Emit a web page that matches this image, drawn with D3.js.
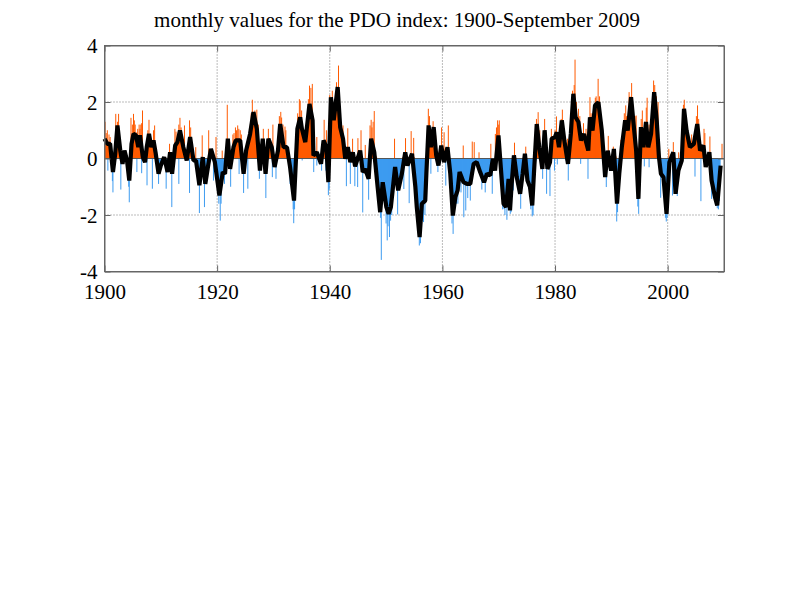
<!DOCTYPE html>
<html>
<head>
<meta charset="utf-8">
<style>
  body { margin: 0; background: #fff; }
  text { font-family: "Liberation Serif", serif; fill: #000; }
</style>
<script src="https://cdn.jsdelivr.net/npm/d3@7"></script>
</head>
<body>
<svg width="800" height="600"></svg>
<script>
const xTicks = [1900, 1920, 1940, 1960, 1980, 2000];
const yTicks = [-4, -2, 0, 2, 4];
const titleText = "monthly values for the PDO index: 1900-September 2009";

// running mean: [year, index]
const smoothed = [
  [1900.0,.70],[1900.5,.52],[1901.0,.52],[1901.5,-.48],[1901.9,.17],[1902.3,1.17],[1902.8,.28],[1903.2,-.19],
  [1903.55,.28],[1904.0,-.07],[1904.4,-.78],[1904.8,.52],[1905.15,.87],[1905.6,.82],[1906.0,.40],[1906.3,.82],
  [1906.8,.05],[1907.2,-.13],[1907.5,.40],[1907.9,.87],[1908.3,.40],[1908.7,.64],[1909.1,.17],[1909.6,-.54],
  [1910.0,-.25],[1910.6,.05],[1911.2,-.48],[1911.65,.22],[1912.0,-.54],[1912.55,.46],[1912.95,.58],[1913.4,.99],
  [1914.0,.40],[1914.6,-.07],[1915.2,.76],[1915.8,-.07],[1916.25,-.07],[1916.85,-.95],[1917.45,.05],[1917.9,-.90],
  [1918.45,-.19],[1918.9,.34],[1919.6,-.13],[1920.4,-1.31],[1921.0,-.48],[1921.4,-.54],[1921.9,.70],[1922.3,-.37],
  [1922.9,.40],[1923.3,.64],[1924.1,.64],[1924.7,-.54],[1925.15,.28],[1925.85,.87],[1926.45,1.64],[1927.05,1.05],
  [1927.6,-.43],[1928.1,.70],[1928.6,-.54],[1929.1,.70],[1929.7,.40],[1930.2,-.30],[1930.8,.28],[1931.2,1.22],
  [1931.8,.40],[1932.4,.40],[1932.95,-.30],[1933.65,-1.49],[1934.25,1.05],[1934.75,1.46],[1935.05,1.05],[1935.65,.58],
  [1936.4,1.93],[1936.95,1.35],[1937.1,.11],[1937.7,.22],[1938.45,-.19],[1938.9,.64],[1939.4,.40],[1939.75,-.84],
  [1940.2,2.17],[1940.7,1.35],[1941.4,2.53],[1941.85,1.11],[1942.35,.70],[1942.75,-.01],[1943.2,.40],[1943.65,-.13],
  [1944.1,.22],[1944.5,-.28],[1945.4,.28],[1945.85,-.48],[1946.3,-.37],[1946.9,-.72],[1947.35,.70],[1947.9,.22],
  [1948.5,-1.01],[1948.95,-1.90],[1949.4,-.84],[1950.05,-1.72],[1950.45,-1.96],[1950.85,-1.72],[1951.6,-.30],[1952.15,-1.13],
  [1952.8,-.54],[1953.4,.22],[1953.8,-.25],[1954.6,.17],[1955.2,-1.01],[1955.45,-1.72],[1955.95,-2.78],[1956.35,-1.60],
  [1956.95,-1.49],[1957.15,-.54],[1957.55,1.17],[1957.95,.40],[1958.45,1.11],[1958.9,.11],[1959.3,-.25],[1959.8,.46],
  [1960.3,-.13],[1960.9,.40],[1961.4,-.54],[1961.85,-2.02],[1962.3,-1.37],[1962.7,-1.13],[1963.05,-.48],[1963.75,-.84],
  [1964.35,-.90],[1964.95,-.90],[1965.55,-.19],[1966.1,-.13],[1966.7,-.48],[1967.4,-.84],[1967.9,-.54],[1968.5,-.60],
  [1968.95,-.01],[1969.35,-.43],[1969.95,.82],[1970.45,-.54],[1970.85,-1.60],[1971.3,-1.72],[1971.75,-.72],[1972.0,-1.84],
  [1972.3,-.90],[1972.7,.11],[1973.2,-.66],[1973.8,-1.25],[1974.25,-.54],[1974.65,.17],[1975.1,-.78],[1975.55,-1.01],
  [1975.95,-1.66],[1976.25,-.54],[1976.75,1.22],[1977.2,.40],[1977.75,-.37],[1978.15,1.00],[1978.65,-.37],[1979.1,-.13],
  [1979.4,.70],[1980.0,.76],[1980.3,.93],[1980.7,.40],[1981.2,1.35],[1981.65,.64],[1982.3,-.19],[1982.8,.87],
  [1983.25,2.29],[1983.65,1.46],[1984.15,1.29],[1984.6,.64],[1985.15,.87],[1985.9,.28],[1986.2,1.46],[1986.65,.99],
  [1987.1,1.88],[1987.7,1.99],[1988.3,.99],[1988.9,-.66],[1989.35,.28],[1989.95,-.43],[1990.45,.34],[1991.0,-1.60],
  [1991.4,-.54],[1991.85,.40],[1992.45,1.35],[1992.9,.99],[1993.5,2.17],[1994.0,1.11],[1994.4,.28],[1994.8,-1.43],
  [1995.25,1.11],[1995.7,.40],[1996.15,1.29],[1996.55,.40],[1997.05,.87],[1997.6,2.35],[1998.05,1.35],[1998.45,.05],
  [1998.8,-.54],[1999.25,-.66],[1999.8,-1.96],[2000.3,-.13],[2001.0,.22],[2001.4,-1.25],[2001.9,-.43],[2002.5,-.07],
  [2002.9,1.76],[2003.35,.99],[2003.95,.40],[2004.65,.52],[2005.25,1.22],[2005.75,.28],[2006.35,.46],[2006.75,-.30],
  [2007.4,.22],[2007.8,-.78],[2008.4,-1.37],[2008.8,-1.66],[2009.4,-.25]
];

// monthly extremes that stick out past the black line
const monthlyHigh = [
  [1900.1,1.30],[1900.5,1.0],[1901.0,.76],[1902.0,1.58],[1902.5,1.58],[1904.7,1.44],[1905.15,1.58],[1905.45,1.2],
  [1905.75,.93],[1906.15,1.2],[1906.45,1.2],[1906.75,1.70],[1907.9,1.37],[1908.9,1.17],[1911.55,.52],[1912.5,1.05],
  [1912.95,.82],[1913.4,1.44],[1914.2,1.17],[1915.1,1.35],[1916.2,.40],[1917.35,.82],[1918.5,1.0],[1919.8,.76],
  [1920.9,.28],[1921.8,1.90],[1922.8,.85],[1923.25,1.1],[1923.65,1.17],[1924.1,1.0],[1926.25,2.08],[1927.05,1.73],
  [1928.2,1.05],[1929.1,1.05],[1929.9,1.2],[1931.05,1.5],[1931.3,1.65],[1932.05,1.13],[1934.6,2.1],[1934.75,2.05],
  [1936.4,2.58],[1936.9,2.64],[1937.7,.76],[1939.0,1.37],[1939.4,1.0],[1940.45,2.4],[1941.55,3.29],[1942.35,1.17],
  [1943.2,1.07],[1944.05,.70],[1945.0,.72],[1945.55,1.0],[1946.3,.48],[1947.15,1.17],[1947.35,1.37],[1947.9,1.68],
  [1951.5,.70],[1953.45,.72],[1954.45,.97],[1954.9,.73],[1957.5,1.76],[1958.35,1.32],[1958.8,.82],[1959.85,1.1],
  [1960.3,.93],[1961.05,1.17],[1963.7,.46],[1965.3,.6],[1965.65,.58],[1966.5,.22],[1968.6,.52],[1969.4,.87],
  [1969.8,1.35],[1970.1,1.35],[1972.8,.56],[1974.8,.42],[1977.0,1.64],[1978.15,1.4],[1979.35,1.05],[1980.0,1.0],
  [1980.25,1.49],[1981.3,1.73],[1982.2,.7],[1982.65,.82],[1983.55,3.5],[1984.15,1.76],[1985.05,1.25],[1985.5,1.05],
  [1986.2,2.17],[1987.15,2.15],[1987.65,2.82],[1989.45,.8],[1990.35,.42],[1991.7,.66],[1992.55,1.88],[1993.15,2.35],
  [1993.6,2.67],[1994.4,1.52],[1995.5,1.70],[1996.35,2.15],[1997.5,2.76],[1998.3,2.0],[2000.2,.34],[2001.0,.58],
  [2001.95,.22],[2002.95,2.08],[2004.25,.85],[2005.3,1.88],[2006.45,1.05],[2007.5,.78],[2009.65,.52],
  // shorter bars packed in next to the tall ones
  [1900.3,.9],[1900.8,.85],[1902.3,1.3],[1904.95,1.2],[1905.3,1.35],[1905.9,1.05],[1906.3,1.05],[1906.6,1.25],
  [1907.7,1.0],[1908.1,.75],[1908.7,1.0],[1912.7,.95],[1913.2,1.2],[1913.6,1.1],[1915.3,1.1],[1923.0,.9],
  [1923.45,1.0],[1923.85,1.05],[1924.3,.85],[1925.9,1.2],[1926.05,1.6],[1926.7,1.7],[1927.3,1.2],[1931.45,1.45],
  [1931.7,1.2],[1932.2,1.0],[1934.3,1.6],[1935.0,1.7],[1936.2,2.1],[1936.65,2.5],[1940.0,2.25],[1940.9,1.9],
  [1941.2,2.7],[1941.75,1.6],[1947.5,1.1],[1947.7,1.3],[1957.7,1.5],[1958.6,1.1],[1969.6,1.1],[1970.0,1.2],
  [1976.7,1.4],[1977.3,1.0],[1981.1,1.4],[1981.5,1.2],[1983.1,2.4],[1983.4,2.6],[1983.8,2.0],[1984.4,1.5],
  [1986.4,1.6],[1986.9,1.7],[1987.3,2.2],[1987.9,2.2],[1988.2,1.5],[1992.3,1.6],[1992.7,1.5],[1993.3,2.2],
  [1993.8,1.9],[1994.2,1.5],[1995.3,1.4],[1995.9,1.3],[1996.2,1.8],[1996.7,1.2],[1997.3,2.2],[1997.7,2.6],
  [1998.0,2.2],[2002.8,1.9],[2003.1,1.6],[2003.5,1.2],[2005.1,1.5],[2005.5,1.4],[2006.6,.9]
];
const monthlyLow = [
  [1900.6,-.43],[1901.5,-1.2],[1902.9,-1.1],[1904.4,-1.55],[1905.75,-.48],[1906.6,-.52],[1907.55,-.95],[1908.5,-1.07],
  [1909.6,-.9],[1910.95,-1.07],[1911.95,-1.72],[1913.2,-.9],[1915.1,-1.22],[1916.85,-1.93],[1917.75,-1.72],[1919.35,-.78],
  [1920.55,-2.2],[1921.3,-.9],[1922.4,-1.0],[1923.9,-.55],[1924.7,-1.22],[1925.45,-1.07],[1927.5,-.72],[1928.65,-1.4],
  [1929.8,-.66],[1930.45,-.72],[1932.95,-.9],[1933.6,-2.29],[1935.1,-.07],[1937.15,-.48],[1937.7,-.25],[1938.55,-.43],
  [1939.3,-.43],[1939.75,-1.3],[1942.95,-.98],[1943.65,-.9],[1944.45,-.98],[1944.95,-1.01],[1945.85,-1.91],[1946.9,-1.46],
  [1949.15,-3.59],[1950.2,-2.9],[1950.6,-2.78],[1952.05,-1.98],[1953.15,-1.08],[1954.1,-1.58],[1955.9,-3.08],[1956.65,-2.25],
  [1957.95,-.54],[1959.2,-.48],[1960.6,-.96],[1961.9,-2.67],[1962.75,-1.6],[1963.8,-2.08],[1964.15,-1.84],[1964.95,-1.49],
  [1967.0,-1.1],[1967.6,-1.2],[1968.85,-1.25],[1970.95,-1.79],[1971.45,-2.17],[1972.05,-1.96],[1972.6,-1.13],[1973.9,-1.78],
  [1975.95,-2.05],[1977.8,-.72],[1978.5,-1.25],[1979.1,-1.33],[1979.9,-.43],[1980.4,-.21],[1982.35,-.78],[1984.55,-.19],
  [1985.85,-.72],[1989.1,-1.01],[1990.95,-2.23],[1994.85,-1.96],[1995.85,-.28],[1996.7,-.31],[1998.75,-1.39],[1999.75,-2.23],
  [2000.85,-1.31],[2001.7,-1.33],[2004.85,-.64],[2005.9,-1.51],[2007.8,-1.43],[2008.8,-1.76],
  // shorter bars packed in next to the deep ones
  [1949.0,-2.1],[1949.6,-1.5],[1950.0,-2.3],[1950.35,-2.4],[1950.8,-2.2],[1951.0,-2.0],[1955.5,-2.2],[1955.7,-2.6],
  [1956.1,-3.0],[1956.45,-2.2],[1956.9,-2.0],[1961.7,-2.3],[1962.1,-2.0],[1962.5,-1.6],[1963.3,-1.2],[1964.5,-1.4],
  [1970.7,-1.8],[1971.1,-2.0],[1971.7,-1.5],[1972.2,-1.9],[1975.7,-1.8],[1976.1,-2.0],[1920.3,-1.6],[1920.7,-1.6],
  [1933.5,-1.8],[1933.75,-1.8],[1939.9,-1.1],[2007.9,-1.1],[2008.2,-1.4],[2008.5,-1.6],[2009.0,-1.8],[2009.2,-1.5],
  [1999.6,-2.1],[1999.9,-2.1],[1991.1,-1.9],[1994.7,-1.7],[1904.3,-1.0],[1901.4,-.8]
];

const orange = "#ff5a00";
const blue = "#3d9bf0";
const frame = "#666";

const svg = d3.select("svg");
const x = d3.scaleLinear().domain([1900, 2010]).range([104.5, 724]);
const y = d3.scaleLinear().domain([-4, 4]).range([271.5, 45.5]);

svg.append("text")
  .attr("x", 397).attr("y", 27)
  .attr("text-anchor", "middle")
  .attr("font-size", 21)
  .text(titleText);

// dotted grid
svg.append("g").selectAll("line").data(xTicks.slice(1)).join("line")
  .attr("x1", d => x(d)).attr("x2", d => x(d))
  .attr("y1", y(4)).attr("y2", y(-4))
  .attr("stroke", "#777").attr("stroke-dasharray", "1 2");
svg.append("g").selectAll("line").data([-2, 2]).join("line")
  .attr("x1", x(1900)).attr("x2", x(2010))
  .attr("y1", d => y(d)).attr("y2", d => y(d))
  .attr("stroke", "#777").attr("stroke-dasharray", "1 2");

// filled part under the smoothed curve
const fillArea = d3.area().x(d => x(d[0])).y0(y(0));
svg.append("path").datum(smoothed)
  .attr("fill", orange)
  .attr("d", fillArea.y1(d => y(Math.max(d[1], 0))));
svg.append("path").datum(smoothed)
  .attr("fill", blue)
  .attr("d", fillArea.y1(d => y(Math.min(d[1], 0))));

// monthly bars
svg.append("g").attr("stroke", orange).attr("stroke-width", 1)
  .selectAll("line").data(monthlyHigh).join("line")
  .attr("x1", d => x(d[0])).attr("x2", d => x(d[0]))
  .attr("y1", y(0)).attr("y2", d => y(d[1]));
svg.append("g").attr("stroke", blue).attr("stroke-width", 1)
  .selectAll("line").data(monthlyLow).join("line")
  .attr("x1", d => x(d[0])).attr("x2", d => x(d[0]))
  .attr("y1", y(0)).attr("y2", d => y(d[1]));

// zero line
svg.append("line")
  .attr("x1", x(1900)).attr("x2", x(2010))
  .attr("y1", y(0)).attr("y2", y(0))
  .attr("stroke", "#555").attr("stroke-width", 1);

svg.append("path").datum(smoothed)
  .attr("fill", "none")
  .attr("stroke", "#000")
  .attr("stroke-width", 4.2)
  .attr("stroke-linejoin", "bevel")
  .attr("d", d3.line().x(d => x(d[0])).y(d => y(d[1])));

// frame and axes
svg.append("rect")
  .attr("x", x(1900)).attr("y", y(4))
  .attr("width", x(2010) - x(1900)).attr("height", y(-4) - y(4))
  .attr("fill", "none").attr("stroke", frame);

const xAxis = svg.append("g")
  .attr("transform", `translate(0,${y(-4)})`)
  .call(d3.axisBottom(x).tickValues(xTicks).tickSizeInner(-6).tickSizeOuter(0).tickPadding(13).tickFormat(String));
const yAxis = svg.append("g")
  .attr("transform", `translate(${x(1900)},0)`)
  .call(d3.axisLeft(y).tickValues(yTicks).tickSizeInner(-6).tickSizeOuter(0).tickPadding(7).tickFormat(String));
svg.append("g")
  .attr("transform", `translate(${x(2010)},0)`)
  .call(d3.axisRight(y).tickValues(yTicks).tickSizeInner(-6).tickSizeOuter(0).tickFormat(""));
svg.append("g")
  .attr("transform", `translate(0,${y(4)})`)
  .call(d3.axisTop(x).tickValues(xTicks).tickSizeInner(-6).tickSizeOuter(0).tickFormat(""));

svg.selectAll(".domain").attr("stroke", frame);
svg.selectAll(".tick line").attr("stroke", frame);
xAxis.selectAll("text").attr("font-size", 21).attr("font-family", "Liberation Serif");
yAxis.selectAll("text").attr("font-size", 21).attr("font-family", "Liberation Serif").attr("dy", "0.34em");
</script>
</body>
</html>
